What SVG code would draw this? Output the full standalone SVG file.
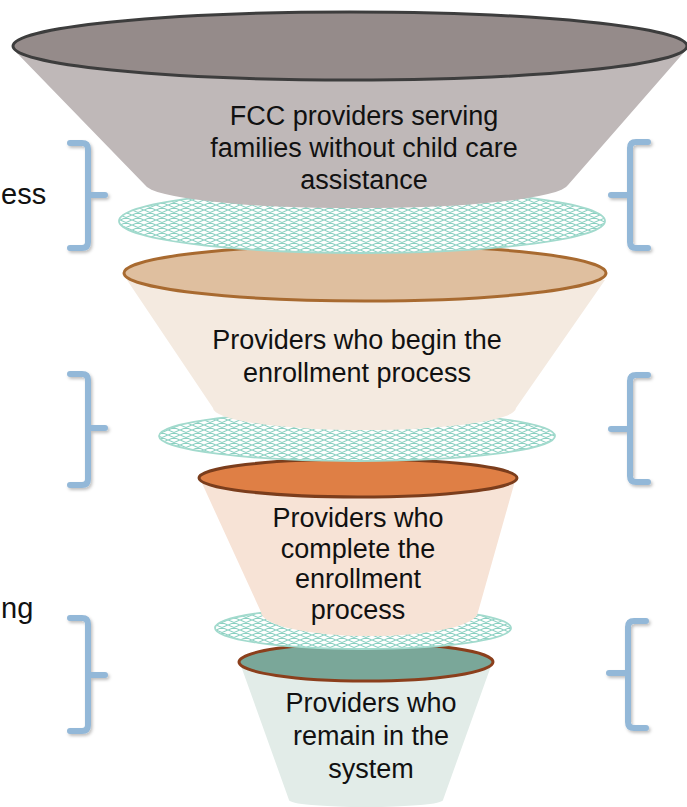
<svg xmlns="http://www.w3.org/2000/svg" width="687" height="807" viewBox="0 0 687 807">
<defs>
<style>
.t{font-family:"Liberation Sans",Arial,sans-serif;font-size:27px;fill:#111;text-anchor:middle}
.side{font-family:"Liberation Sans",Arial,sans-serif;font-size:29px;fill:#111}
.mesh{fill:url(#hatch);stroke:#a2dacd;stroke-width:1.8}
.br{fill:none;stroke:#93b8d8;stroke-width:6;stroke-linecap:round;stroke-linejoin:round;filter:url(#sh)}
</style>
<pattern id="hatch" patternUnits="userSpaceOnUse" width="12" height="5">
<rect width="12" height="5" fill="#ffffff"/>
<path d="M0,0 L12,5 M0,5 L12,0 M-12,0 L12,10 M0,-5 L24,5 M-12,5 L12,-5 M0,10 L24,0" stroke="#8ad0c1" stroke-width="1.1" fill="none"/>
</pattern>
<filter id="sh" x="-50%" y="-20%" width="200%" height="140%">
<feDropShadow dx="1.5" dy="2" stdDeviation="1.5" flood-color="#000" flood-opacity="0.25"/>
</filter>
</defs>

<g id="funnel-teal">
<path d="M241,666 L289,800 A77 7 0 0 0 443,800 L491,666 Z" fill="#e2ece8"/>
<ellipse cx="366" cy="662" rx="127" ry="19" fill="#7aa799" stroke="#8b3f1c" stroke-width="3"/>
<text class="t" x="371" y="712">Providers who</text>
<text class="t" x="371" y="745">remain in the</text>
<text class="t" x="371" y="778">system</text>
</g>
<g id="mesh-3"><ellipse class="mesh" cx="363" cy="628" rx="148" ry="21"/></g>

<g id="funnel-orange">
<path d="M201,481 L261,612 A108 24 0 0 0 478,612 L515,481 Z" fill="#f7e3d6"/>
<ellipse cx="358" cy="478" rx="159" ry="19" fill="#df7f45" stroke="#7b3d1c" stroke-width="3"/>
<text class="t" x="358" y="527">Providers who</text>
<text class="t" x="358" y="558">complete the</text>
<text class="t" x="358" y="588">enrollment</text>
<text class="t" x="358" y="619">process</text>
</g>
<g id="mesh-2"><ellipse class="mesh" cx="357" cy="436" rx="198" ry="25"/></g>

<g id="funnel-tan">
<path d="M127,280 L213,408 A151 22 0 0 0 516,408 L605,280 Z" fill="#f4eae0"/>
<ellipse cx="365" cy="273" rx="241" ry="28" fill="#dfbf9f" stroke="#a86a30" stroke-width="3"/>
<text class="t" x="357" y="349">Providers who begin the</text>
<text class="t" x="357" y="382">enrollment process</text>
</g>
<g id="mesh-1"><ellipse class="mesh" cx="362" cy="221" rx="243" ry="32"/></g>

<g id="funnel-gray">
<path d="M14,50 L145,185 A212 25 0 0 0 568,185 L686,50 Z" fill="#bfb8b8"/>
<ellipse cx="350" cy="46" rx="337" ry="34" fill="#958b8a" stroke="#3d3d3d" stroke-width="3"/>
<text class="t" x="364" y="125">FCC providers serving</text>
<text class="t" x="364" y="157">families without child care</text>
<text class="t" x="364" y="189">assistance</text>
</g>

<g id="labels">
<text class="side" x="1" y="204">ess</text>
<text class="side" x="1" y="618">ng</text>
</g>

<g id="brackets">
<path class="br" d="M70,143 L82,143 Q88,143 88,149 L88,242 Q88,248 82,248 L70,248 M88,195 L105,195"/>
<path class="br" d="M70,374 L82,374 Q88,374 88,380 L88,479 Q88,485 82,485 L70,485 M88,428 L105,428"/>
<path class="br" d="M70,618 L82,618 Q88,618 88,624 L88,725 Q88,731 82,731 L70,731 M88,675 L105,675"/>
<path class="br" d="M648,142 L636,142 Q630,142 630,148 L630,242 Q630,248 636,248 L648,248 M630,195 L611,195"/>
<path class="br" d="M648,375 L636,375 Q630,375 630,381 L630,476 Q630,482 636,482 L648,482 M630,429 L611,429"/>
<path class="br" d="M646,621 L634,621 Q628,621 628,627 L628,722 Q628,728 634,728 L646,728 M628,673 L609,673"/>
</g>
</svg>
